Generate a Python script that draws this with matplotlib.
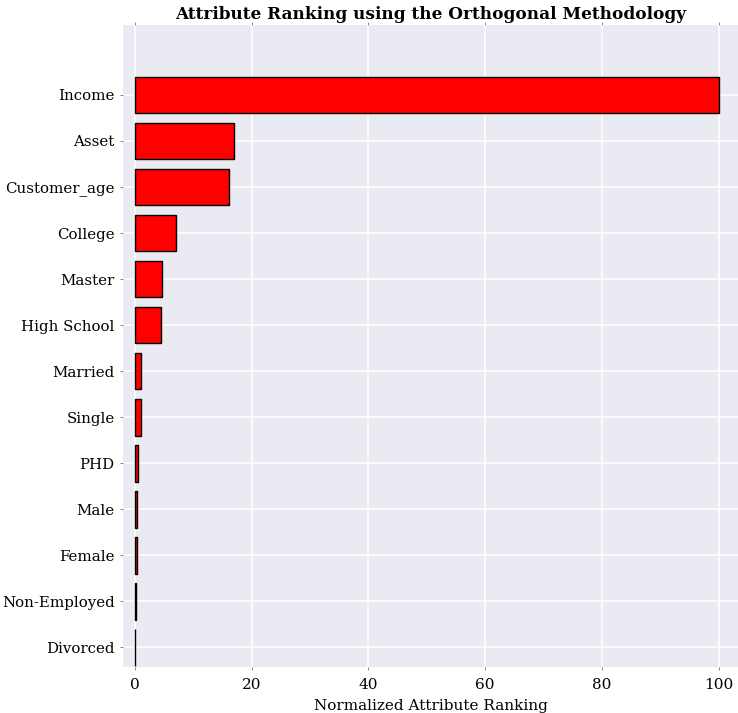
import matplotlib
matplotlib.use("Agg")
from matplotlib import pyplot as plt

attributes = ["Income", "Asset", "Customer_age", "College", "Master", "High School",
              "Married", "Single", "PHD", "Male", "Female", "Non-Employed", "Divorced"]
ranking = [100, 17.0, 16.1, 7.0, 4.6, 4.5, 1.1, 1.1, 0.6, 0.4, 0.35, 0.2, 0.05]

plt.rcParams['font.family'] = ['DejaVu Serif']

fig = plt.figure(figsize=(7.38, 7.13), dpi=100)
ax = fig.add_axes([123 / 738, 46 / 713, 615 / 738, 642 / 713])
ax.set_facecolor("#EAEAF2")
for s in ax.spines.values():
    s.set_visible(False)
ax.grid(True, color="white", linewidth=1.1)
ax.set_axisbelow(True)

pos = list(range(len(attributes)))
ax.barh(pos, ranking, height=0.8, color="red", edgecolor="black", linewidth=1)
ax.set_yticks(pos)
ax.set_yticklabels(attributes, fontsize=10.8)
ax.set_ylim(12.43, -1.52)
ax.set_xlim(-2.05, 103.3)
ax.set_xticks([0, 20, 40, 60, 80, 100])
ax.tick_params(axis='x', labelsize=11, length=2, width=0.6, pad=6, color="#777777", top=True)
ax.tick_params(axis='y', length=2, width=0.6, pad=4, color="#777777")
ax.set_xlabel("Normalized Attribute Ranking", fontsize=11, labelpad=5)
ax.set_title("Attribute Ranking using the Orthogonal Methodology", fontsize=12.2,
             fontweight="bold", pad=4)

fig.savefig("out.png", dpi=100)
